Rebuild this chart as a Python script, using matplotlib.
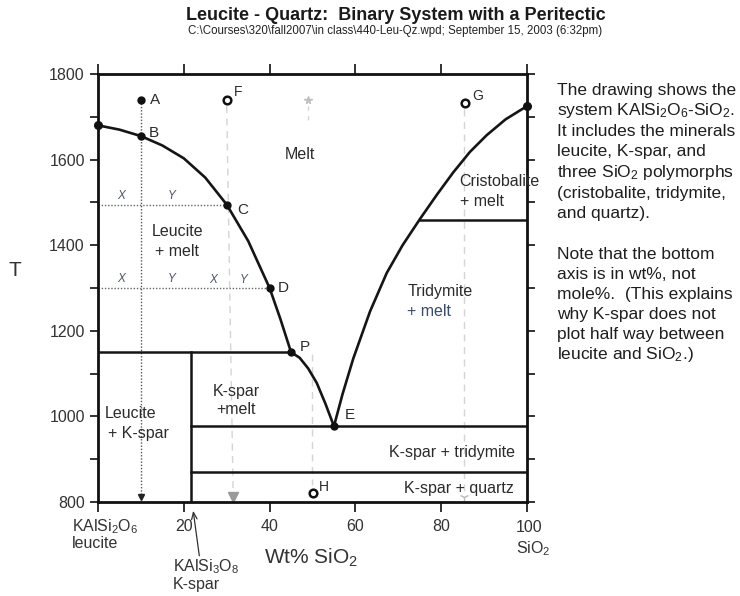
import matplotlib
matplotlib.use('Agg')
import matplotlib.pyplot as plt
from matplotlib.ticker import MultipleLocator

plt.rcParams['font.family'] = ['Liberation Sans', 'DejaVu Sans']
plt.rcParams['mathtext.default'] = 'regular'

W, H = 740, 596

# ---------------- data ----------------
leucite_liq_x = [0, 5, 10, 15, 20, 25, 30, 35, 40, 42.5, 45]
leucite_liq_T = [1680, 1670, 1655, 1633, 1603, 1558, 1495, 1410, 1300, 1228, 1150]
kspar_liq_x = [45, 47, 49, 51, 53, 55]
kspar_liq_T = [1150, 1137, 1112, 1078, 1030, 977]
silica_liq_x = [55, 57, 59.5, 63.4, 67.3, 71, 75.1, 79, 82.8, 86.7, 90.6, 95, 100]
silica_liq_T = [977, 1052, 1135, 1245, 1335, 1400, 1462, 1518, 1570, 1618, 1657, 1694, 1725]

kspar_comp = 21.6
peritectic_T = 1150
eutectic_T = 977
cris_trid_T = 1460
cris_trid_x0 = 75.0
trid_qtz_T = 870

filled_names = ['A', 'B', 'C', 'D', 'P', 'E']
filled_x = [10, 10, 30, 40, 45, 55]
filled_T = [1740, 1655, 1495, 1300, 1150, 977]
end_x = [0, 100]
end_T = [1680, 1725]
open_names = ['F', 'G', 'H']
open_x = [30, 85.5, 50]
open_T = [1740, 1733, 822]

tie_T = [1495, 1300]
tie_x_end = [30, 40]

xtick_vals = [0, 20, 40, 60, 80, 100]
xtick_labels = ['', '20', '40', '60', '80', '']

# ---------------- figure ----------------
fig = plt.figure(figsize=(W / 100, H / 100), dpi=100)
ax = fig.add_axes([98 / W, 1 - 502 / H, (527 - 98) / W, (502 - 74) / H])
ax.set_xlim(0, 100)
ax.set_ylim(800, 1800)

lc = '#151515'
# liquidus curves
ax.plot(leucite_liq_x, leucite_liq_T, color=lc, lw=1.9, solid_joinstyle='round', zorder=4)
ax.plot(kspar_liq_x, kspar_liq_T, color=lc, lw=1.9, solid_joinstyle='round', zorder=4)
ax.plot(silica_liq_x, silica_liq_T, color=lc, lw=1.9, solid_joinstyle='round', zorder=4)

# isotherms and K-spar composition line
ax.plot([0, kspar_liq_x[0]], [peritectic_T, peritectic_T], color=lc, lw=1.8, zorder=3)
ax.plot([kspar_comp, 100], [eutectic_T, eutectic_T], color=lc, lw=1.8, zorder=3)
ax.plot([cris_trid_x0, 100], [cris_trid_T, cris_trid_T], color=lc, lw=1.8, zorder=3)
ax.plot([kspar_comp, 100], [trid_qtz_T, trid_qtz_T], color=lc, lw=1.8, zorder=3)
ax.plot([kspar_comp, kspar_comp], [800, peritectic_T], color=lc, lw=1.8, zorder=3)

# dotted cooling path and tie lines
ax.plot([filled_x[0], filled_x[0]], [filled_T[0], 816], color='#555555', lw=1.0,
        ls=(0, (1, 1.3)), zorder=2)
ax.plot([filled_x[0]], [811], marker='v', ms=5, color='#222222', zorder=3)
for t, xe in zip(tie_T, tie_x_end):
    ax.plot([0, xe], [t, t], color='#666666', lw=1.0, ls=(0, (1, 1.3)), zorder=2)

# faint pencil lines
faint = '#d4d4d4'
ax.plot([30, 31.5], [1725, 818], color=faint, lw=1.0, ls=(0, (5, 4)), zorder=1)
ax.plot([31.5], [812], marker='v', ms=6.5, color='#9a9a9a', zorder=2)
ax.plot([49.8, 49.8], [1145, 840], color=faint, lw=1.0, ls=(0, (5, 4)), zorder=1)
ax.plot([85.3, 85.3], [1718, 812], color=faint, lw=1.0, ls=(0, (5, 4)), zorder=1)
ax.plot([85.3], [812], marker='1', ms=7, color='#bbbbbb', zorder=2)
ax.plot([49], [1740], marker='*', ms=5.5, color='#c0c0c0', zorder=2)
ax.plot([49, 49], [1725, 1690], color=faint, lw=1.0, ls=(0, (3, 4)), zorder=1)

# points
ax.plot(filled_x, filled_T, 'o', ms=5, color='#111111', zorder=5)
ax.plot(end_x, end_T, 'o', ms=5.5, color='#111111', zorder=5, clip_on=False)
ax.plot(open_x, open_T, 'o', ms=5.5, mfc='white', mec='#111111', mew=1.8, zorder=5)

tc = '#2b2b2b'
pt_fs = 11
pt_pos = {'A': (12.2, 1740), 'B': (11.8, 1662), 'C': (32.5, 1482), 'D': (41.8, 1300),
          'P': (47.0, 1163), 'E': (57.6, 1003)}
for n in filled_names:
    px, py = pt_pos[n]
    ax.text(px, py, n, fontsize=pt_fs, color=tc, ha='left', va='center')
op_pos = {'F': (31.6, 1759), 'G': (87.3, 1749), 'H': (51.5, 834)}
for n in open_names:
    px, py = op_pos[n]
    ax.text(px, py, n, fontsize=10, color=tc, ha='left', va='center')

# X / Y lever labels
xy_c = '#4b5568'
for xx, yy, s in [(5.5, 1515, 'X'), (17.2, 1515, 'Y'), (5.5, 1320, 'X'), (17.2, 1320, 'Y'),
                  (26.9, 1318, 'X'), (34.0, 1318, 'Y')]:
    ax.text(xx, yy, s, fontsize=8.5, style='italic', color=xy_c, ha='center', va='center')

# field labels
fl = 11.5
ax.text(47.1, 1611, 'Melt', fontsize=fl, color=tc, ha='center', va='center')
ax.text(18.5, 1432, 'Leucite', fontsize=fl, color=tc, ha='center', va='center')
ax.text(18.5, 1385, '+ melt', fontsize=fl, color=tc, ha='center', va='center')
ax.text(84.2, 1548, 'Cristobalite', fontsize=fl, color=tc, ha='left', va='center', zorder=6)
ax.text(84.4, 1502, '+ melt', fontsize=fl, color=tc, ha='left', va='center')
ax.text(72.1, 1291, 'Tridymite', fontsize=fl, color=tc, ha='left', va='center')
ax.text(72.1, 1245, '+ melt', fontsize=fl, color='#3a4a6a', ha='left', va='center')
ax.text(26.7, 1058, 'K-spar', fontsize=fl, color=tc, ha='left', va='center')
ax.text(27.5, 1015, '+melt', fontsize=fl, color=tc, ha='left', va='center')
ax.text(1.6, 1007, 'Leucite', fontsize=fl, color=tc, ha='left', va='center')
ax.text(2.4, 960, '+ K-spar', fontsize=fl, color=tc, ha='left', va='center')
ax.text(97.2, 916, 'K-spar + tridymite', fontsize=fl, color=tc, ha='right', va='center')
ax.text(97.0, 832, 'K-spar + quartz', fontsize=fl, color=tc, ha='right', va='center')

# axes styling
for sp in ax.spines.values():
    sp.set_linewidth(2.0)
    sp.set_color('#111111')
ax.set_xticks(xtick_vals)
ax.set_xticklabels(xtick_labels)
ax.yaxis.set_major_locator(MultipleLocator(200))
ax.yaxis.set_minor_locator(MultipleLocator(100))
ax.tick_params(which='both', direction='out', top=True, right=True,
               labeltop=False, labelright=False, colors='#222222', labelcolor='#333333')
ax.tick_params(axis='x', which='major', length=7, width=1.3, pad=5, labelsize=11.5)
ax.tick_params(axis='y', which='both', length=6, width=1.3, pad=3.5, labelsize=11.5)

# text outside axes (pixel positions -> figure fraction)
def ftext(x, y, s, **kw):
    fig.text(x / W, 1 - y / H, s, **kw)

ftext(396, 16, 'Leucite - Quartz:  Binary System with a Peritectic', fontsize=13,
      fontweight='bold', ha='center', va='center', color='#1a1a1a')
ftext(395, 31, r'C:\Courses\320\fall2007\in class\440-Leu-Qz.wpd; September 15, 2003 (6:32pm)',
      fontsize=8.3, ha='center', va='center', color='#222222')

ftext(15, 270, 'T', fontsize=15, ha='center', va='center', color='#333333')
ftext(311, 558, 'Wt% SiO$_2$', fontsize=15, ha='center', va='center', color='#333333')
ftext(72, 527, 'KAlSi$_2$O$_6$', fontsize=11.5, ha='left', va='center', color='#333333')
ftext(72, 543, 'leucite', fontsize=11.5, ha='left', va='center', color='#333333')
ftext(516, 528, '100', fontsize=11.5, ha='left', va='center', color='#333333')
ftext(516, 549, 'SiO$_2$', fontsize=11.5, ha='left', va='center', color='#333333')
ftext(173, 567, 'KAlSi$_3$O$_8$', fontsize=11.5, ha='left', va='center', color='#333333')
ftext(173, 585, 'K-spar', fontsize=11.5, ha='left', va='center', color='#333333')
ax.annotate('', xy=(22.1, 786), xytext=(23.7, 668), annotation_clip=False,
            arrowprops=dict(arrowstyle='->,head_length=0.5,head_width=0.2', lw=0.9,
                            color='#333333'))

note_lines = [
    (90, 'The drawing shows the'),
    (110, 'system KAlSi$_2$O$_6$-SiO$_2$.'),
    (130, 'It includes the minerals'),
    (150.7, 'leucite, K-spar, and'),
    (171.7, 'three SiO$_2$ polymorphs'),
    (192.7, '(cristobalite, tridymite,'),
    (212.7, 'and quartz).'),
    (253.3, 'Note that the bottom'),
    (273.3, 'axis is in wt%, not'),
    (293.3, 'mole%.  (This explains'),
    (313.3, 'why K-spar does not'),
    (333.3, 'plot half way between'),
    (354, 'leucite and SiO$_2$.)'),
]
for yy, s in note_lines:
    ftext(557, yy + 5.5, s, fontsize=12.5, ha='left', va='baseline', color='#1e1e1e')

fig.savefig('out.png', dpi=100, facecolor='white')
